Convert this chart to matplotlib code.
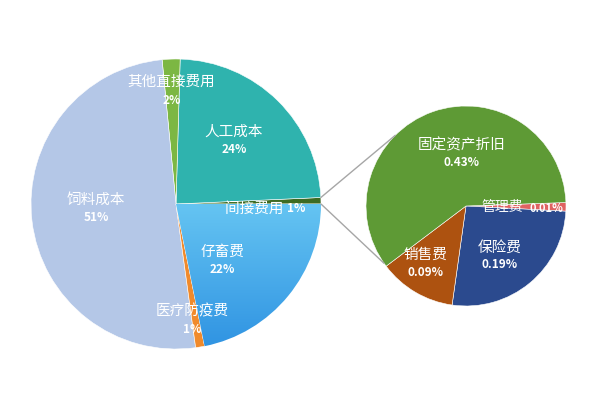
import matplotlib
matplotlib.use("Agg")
import matplotlib.pyplot as plt
import numpy as np
from matplotlib.patches import ConnectionPatch

plt.rcParams['font.family'] = ['Noto Sans CJK SC', 'DejaVu Sans']

# main pie (counter-clockwise from 3 o'clock)
main_names = ["间接费用", "人工成本", "其他直接费用", "饲料成本", "医疗防疫费", "仔畜费"]
main_values = [0.72, 24, 2, 51, 1, 22]
main_labels = ["1%", "24%", "2%", "51%", "1%", "22%"]
main_colors = ["#3D6B22", "#2FB3AE", "#7CB743", "#B4C7E7", "#F08A2C", "#4DB0EC"]

# secondary pie: breakdown of 间接费用 (clockwise)
sub_names = ["管理费", "保险费", "销售费", "固定资产折旧"]
sub_values = [0.01, 0.19, 0.09, 0.43]
sub_labels = ["0.01%", "0.19%", "0.09%", "0.43%"]
sub_colors = ["#E06262", "#2B4A8E", "#AD5210", "#5E9A35"]

LIM = 1.02


def pie_axes(fig, cx, cy, r):
    # axes placed so that a radius-1 pie has centre (cx, cy) and radius r pixels
    h = r * LIM
    return fig.add_axes([(cx - h) / 600, (400 - cy - h) / 400, 2 * h / 600, 2 * h / 400])


fig = plt.figure(figsize=(6, 4), dpi=100)
ax1 = pie_axes(fig, 176, 204, 145)
ax2 = pie_axes(fig, 466, 206, 100)

w1, _ = ax1.pie(main_values, colors=main_colors, startangle=0, counterclock=True,
                radius=1, wedgeprops=dict(edgecolor="white", linewidth=0.4))
w2, _ = ax2.pie(sub_values, colors=sub_colors, startangle=2, counterclock=False,
                radius=1, wedgeprops=dict(edgecolor="white", linewidth=0.4))

# gradient fill for 仔畜费
grad = np.linspace(0, 1, 256).reshape(-1, 1)
cmap = matplotlib.colors.LinearSegmentedColormap.from_list("zc", ["#2F93E2", "#68C7F3"])
im = ax1.imshow(grad, cmap=cmap, extent=[-1, 1, -1, 0.05], origin="lower",
                aspect="auto", zorder=1.5)
im.set_clip_path(w1[5])
w1[5].set_facecolor("none")

for ax in (ax1, ax2):
    ax.set_xlim(-LIM, LIM)
    ax.set_ylim(-LIM, LIM)
    ax.set_aspect("equal")
    ax.axis("off")

white = "white"
# main labels: (x, y) in data units of the pie
main_pos = [None, (0.40, 0.50), (-0.03, 0.84), (-0.55, 0.03), (0.11, -0.74), (0.32, -0.33)]
for i, pos in enumerate(main_pos):
    if pos is None:
        continue
    ax1.text(pos[0], pos[1], main_names[i], ha="center", va="center",
             color=white, fontsize=10.5)
    ax1.text(pos[0], pos[1] - 0.125, main_labels[i], ha="center", va="center",
             color=white, fontsize=8.5, fontweight="bold")
ax1.text(0.55, -0.03, main_names[0] + " ", ha="center", va="center",
         color=white, fontsize=10.5)
ax1.text(0.83, -0.03, main_labels[0], ha="center", va="center",
         color=white, fontsize=8.5, fontweight="bold")

sub_pos = [None, (0.34, -0.42), (-0.41, -0.49), (-0.04, 0.61)]
for i, pos in enumerate(sub_pos):
    if pos is None:
        continue
    ax2.text(pos[0], pos[1], sub_names[i], ha="center", va="center",
             color=white, fontsize=10.5)
    ax2.text(pos[0], pos[1] - 0.17, sub_labels[i], ha="center", va="center",
             color=white, fontsize=8.5, fontweight="bold")
ax2.text(0.36, -0.01, sub_names[0], ha="center", va="center",
         color=white, fontsize=10)
ax2.text(0.80, -0.02, sub_labels[0], ha="center", va="center",
         color=white, fontsize=8, fontweight="bold")

# connector lines between the 间接费用 slice and the secondary pie
t1, t2 = np.deg2rad(w1[0].theta1), np.deg2rad(w1[0].theta2)
for ta, tb in [(t2, np.deg2rad(135)), (t1, np.deg2rad(215))]:
    con = ConnectionPatch(xyA=(np.cos(ta), np.sin(ta)), coordsA=ax1.transData,
                          xyB=(np.cos(tb), np.sin(tb)), coordsB=ax2.transData,
                          color="#A6A6A6", linewidth=1)
    fig.add_artist(con)

fig.savefig("out.png", dpi=100, facecolor="white")
